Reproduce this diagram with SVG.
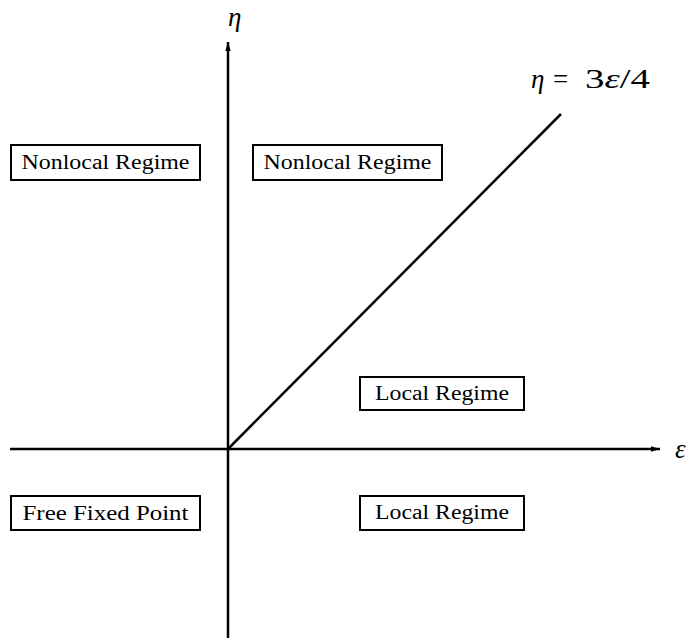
<svg xmlns="http://www.w3.org/2000/svg" width="689" height="640" viewBox="0 0 689 640">
<style>
.box{fill:#fff;stroke:#000;stroke-width:2}
.lbl{font-family:"Liberation Serif","DejaVu Serif",serif;font-size:20px;fill:#000;text-anchor:middle}
.math{font-family:"Liberation Serif","DejaVu Serif",serif;font-size:27px;fill:#000;font-style:italic}
.ax{stroke:#000;stroke-width:2.5;fill:none}
</style>
<defs>
<marker id="ah" viewBox="0 0 10 10" refX="10" refY="5" markerWidth="9" markerHeight="9" markerUnits="userSpaceOnUse" orient="auto">
<path d="M0,2 L10,5 L0,8 Z" fill="#000"/>
</marker>
</defs>
<rect width="689" height="640" fill="#fff"/>
<g id="connectors">
<line class="ax" x1="228" y1="638" x2="228" y2="42" marker-end="url(#ah)"/>
<line class="ax" x1="10" y1="449" x2="660" y2="449" marker-end="url(#ah)"/>
<line class="ax" x1="228" y1="449" x2="561" y2="114"/>
</g>
<g id="axis-eta"><text class="math" x="228" y="26">η</text></g>
<g id="axis-eps"><text class="math" x="675" y="458">ε</text></g>
<g id="line-label"><text class="math" y="88"><tspan x="531">η</tspan><tspan x="553" font-style="normal">=</tspan></text><text class="math" x="585" y="88" textLength="65" lengthAdjust="spacingAndGlyphs"><tspan font-style="normal">3</tspan><tspan>ε</tspan><tspan font-style="normal">/4</tspan></text></g>
<g id="n1"><rect class="box" x="11" y="145" width="189" height="35"/><text class="lbl" x="105.5" y="169" textLength="168" lengthAdjust="spacingAndGlyphs">Nonlocal Regime</text></g>
<g id="n2"><rect class="box" x="253" y="145" width="189" height="35"/><text class="lbl" x="347.5" y="169" textLength="168" lengthAdjust="spacingAndGlyphs">Nonlocal Regime</text></g>
<g id="n3"><rect class="box" x="360" y="377" width="164" height="33"/><text class="lbl" x="442" y="400" textLength="134" lengthAdjust="spacingAndGlyphs">Local Regime</text></g>
<g id="n4"><rect class="box" x="11" y="496" width="189" height="34"/><text class="lbl" x="105.5" y="520" textLength="166" lengthAdjust="spacingAndGlyphs">Free Fixed Point</text></g>
<g id="n5"><rect class="box" x="360" y="496" width="164" height="34"/><text class="lbl" x="442" y="519" textLength="134" lengthAdjust="spacingAndGlyphs">Local Regime</text></g>
</svg>
